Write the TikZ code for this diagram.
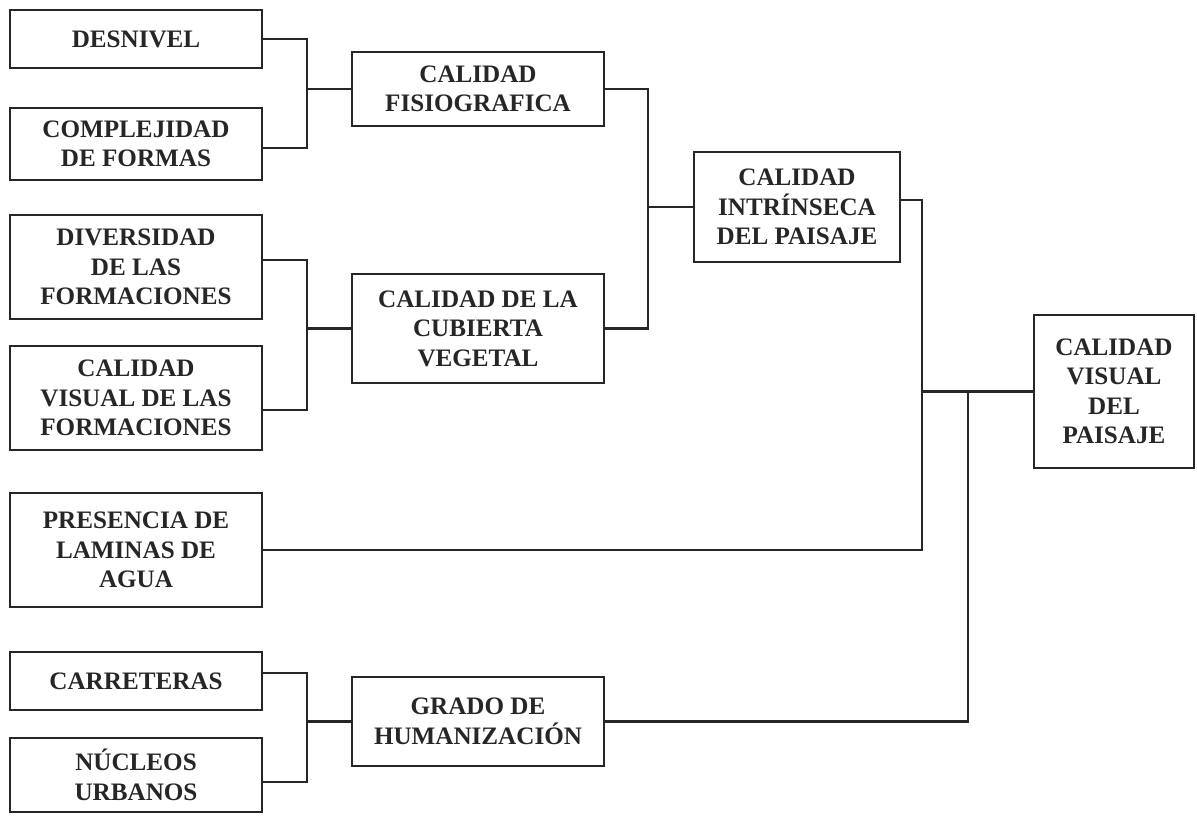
\documentclass[tikz,border=0pt]{standalone}
\usepackage{fontspec}
\setmainfont{Liberation Serif}
\definecolor{ink}{HTML}{262626}
\tikzset{
  box/.style={draw=ink, line width=1.5pt, rectangle, align=center, text=ink,
    font=\fontsize{14.3}{16.8}\selectfont\bfseries, inner sep=2pt},
  link/.style={draw=ink, line width=1.3pt},
}
\begin{document}
\begin{tikzpicture}[x=0.02cm, y=-0.02cm]
		\useasboundingbox (0,0) rectangle (1197,816);
		% left column
		\node[box, minimum width=5.04cm, minimum height=1.16cm] (desn) at (136,39) {DESNIVEL};
		\node[box, minimum width=5.04cm, minimum height=1.44cm] (compl) at (136,144) {COMPLEJIDAD\\DE FORMAS};
		\node[box, minimum width=5.04cm, minimum height=2.08cm] (div) at (136,267) {DIVERSIDAD\\DE LAS\\FORMACIONES};
		\node[box, minimum width=5.04cm, minimum height=2.08cm] (cvf) at (136,398) {CALIDAD\\VISUAL DE LAS\\FORMACIONES};
		\node[box, minimum width=5.04cm, minimum height=2.28cm] (pres) at (136,550) {PRESENCIA DE\\LAMINAS DE\\AGUA};
		\node[box, minimum width=5.04cm, minimum height=1.16cm] (carr) at (136,681) {CARRETERAS};
		\node[box, minimum width=5.04cm, minimum height=1.48cm] (nucl) at (136,775) {NÚCLEOS\\URBANOS};
		% middle column
		\node[box, minimum width=5.04cm, minimum height=1.48cm] (fis) at (478,89) {CALIDAD\\FISIOGRAFICA};
		\node[box, minimum width=5.04cm, minimum height=2.18cm] (cub) at (478,328.5) {CALIDAD DE LA\\CUBIERTA\\VEGETAL};
		\node[box, minimum width=5.04cm, minimum height=1.78cm] (hum) at (478,721.5) {GRADO DE\\HUMANIZACIÓN};
		% right side
		\node[box, minimum width=4.12cm, minimum height=2.2cm] (intr) at (797,207) {CALIDAD\\INTRÍNSECA\\DEL PAISAJE};
		\node[box, minimum width=3.2cm, minimum height=3.06cm] (vis) at (1114,391.5) {CALIDAD\\VISUAL\\DEL\\PAISAJE};

		% bracket positions and connection points
		\coordinate (b1) at (307,0);
		\coordinate (b2) at (648,0);
		\coordinate (b3) at (922,0);
		\coordinate (b4) at (968,0);
		\coordinate (compl-e) at ([yshift=-0.08cm]compl.east);
		\coordinate (div-e) at ([yshift=0.14cm]div.east);
		\coordinate (cvf-e) at ([yshift=-0.24cm]cvf.east);
		\coordinate (carr-e) at ([yshift=0.16cm]carr.east);
		\coordinate (nucl-e) at ([yshift=-0.14cm]nucl.east);
		\coordinate (intr-e) at ([yshift=0.14cm]intr.east);

		\draw[link] (desn.east) -| (b1 |- compl-e) -- (compl-e);
		\draw[link] (b1 |- fis.west) -- (fis.west);
		\draw[link] (div-e) -| (b1 |- cvf-e) -- (cvf-e);
		\draw[link] (b1 |- cub.west) -- (cub.west);
		\draw[link] (carr-e) -| (b1 |- nucl-e) -- (nucl-e);
		\draw[link] (b1 |- hum.west) -- (hum.west);

		\draw[link] (fis.east) -| (b2 |- cub.east) -- (cub.east);
		\draw[link] (b2 |- intr.west) -- (intr.west);

		\draw[link] (intr-e) -| (b3 |- pres.east) -- (pres.east);
		\draw[link] (b3 |- vis.west) -- (vis.west);
		\draw[link] (b4 |- vis.west) |- (hum.east);
	\end{tikzpicture}
\end{document}
